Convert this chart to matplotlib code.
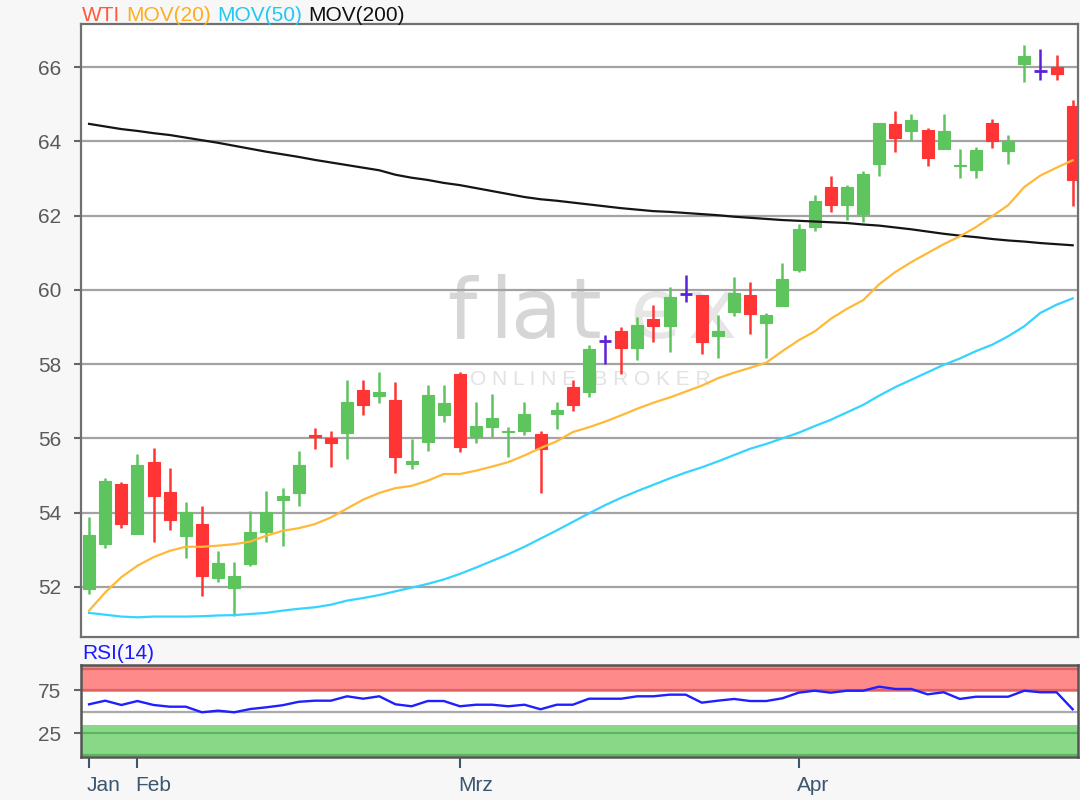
import matplotlib
matplotlib.use("Agg")
import matplotlib.pyplot as plt
import matplotlib.transforms as mtransforms
import pandas as pd
import numpy as np

plt.rcParams['font.family'] = ['Liberation Sans', 'DejaVu Sans']

# ---------------- data ----------------
dates = pd.bdate_range('2019-01-29', periods=62)
month_names = {1: 'Jan', 2: 'Feb', 3: 'Mrz', 4: 'Apr'}

opens = [51.94, 53.15, 54.76, 53.42, 55.35, 54.55, 53.38, 53.68, 52.25, 51.96,
         52.62, 53.49, 54.35, 54.52, 56.10, 56.00, 56.14, 57.31, 57.13, 57.04,
         55.31, 55.89, 56.64, 57.74, 56.03, 56.31, 56.17, 56.20, 56.12, 56.65,
         57.37, 57.24, 58.62, 58.90, 58.43, 59.21, 59.03, 59.90, 59.86, 58.76,
         59.39, 59.86, 59.10, 59.57, 60.53, 61.69, 62.77, 62.28, 62.03, 63.40,
         64.46, 64.27, 64.30, 63.80, 63.33, 63.24, 64.50, 63.73, 66.09, 65.89,
         66.00, 64.94]
closes = [53.41, 54.86, 53.69, 55.29, 54.46, 53.80, 54.01, 52.30, 52.65, 52.28,
          53.47, 54.01, 54.44, 55.29, 56.03, 55.87, 56.99, 56.90, 57.26, 55.50,
          55.38, 57.16, 56.94, 55.77, 56.34, 56.55, 56.20, 56.66, 55.72, 56.77,
          56.90, 58.41, 58.62, 58.43, 59.06, 59.03, 59.81, 59.90, 58.60, 58.88,
          59.91, 59.34, 59.32, 60.29, 61.65, 62.39, 62.28, 62.77, 63.11, 64.50,
          64.09, 64.57, 63.56, 64.28, 63.37, 63.76, 64.00, 64.00, 66.29, 65.89,
          65.82, 62.97]
highs = [53.89, 54.92, 54.82, 55.57, 55.73, 55.19, 54.28, 54.17, 52.97, 52.66,
         54.05, 54.59, 54.65, 55.67, 56.27, 56.21, 57.58, 57.58, 57.80, 57.53,
         55.99, 57.44, 57.43, 57.80, 56.99, 57.20, 56.31, 56.99, 56.19, 56.99,
         57.58, 58.51, 58.79, 58.99, 59.27, 59.59, 60.08, 60.40, 59.86, 59.33,
         60.35, 60.22, 59.37, 60.71, 61.76, 62.56, 63.06, 62.83, 63.19, 64.50,
         64.83, 64.73, 64.36, 64.73, 63.80, 63.85, 64.61, 64.18, 66.60, 66.49,
         66.33, 65.10]
lows = [51.81, 53.04, 53.58, 53.42, 53.22, 53.53, 52.78, 51.76, 52.14, 51.21,
        52.55, 53.22, 53.11, 54.19, 55.71, 55.22, 55.45, 56.64, 56.95, 55.06,
        55.17, 55.67, 56.43, 55.62, 55.87, 56.03, 55.50, 56.09, 54.53, 56.26,
        56.74, 57.12, 58.00, 57.73, 58.11, 58.60, 58.33, 59.66, 58.27, 58.16,
        59.30, 58.81, 58.16, 59.57, 60.48, 61.58, 62.10, 61.89, 61.83, 63.07,
        63.71, 64.03, 63.34, 63.78, 63.01, 63.01, 63.82, 63.40, 65.60, 65.66,
        65.66, 62.27]

mov20 = [51.36, 51.85, 52.26, 52.57, 52.80, 52.97, 53.08, 53.08, 53.11, 53.15,
         53.22, 53.38, 53.51, 53.58, 53.69, 53.87, 54.11, 54.35, 54.53, 54.66,
         54.72, 54.86, 55.04, 55.04, 55.13, 55.24, 55.36, 55.54, 55.74, 55.92,
         56.17, 56.30, 56.45, 56.62, 56.80, 56.96, 57.10, 57.26, 57.42, 57.62,
         57.77, 57.90, 58.04, 58.35, 58.64, 58.88, 59.22, 59.49, 59.72, 60.15,
         60.48, 60.75, 60.99, 61.23, 61.44, 61.69, 61.98, 62.28, 62.77, 63.08,
         63.29, 63.49]
mov50 = [51.30, 51.25, 51.20, 51.18, 51.20, 51.20, 51.20, 51.21, 51.23, 51.24,
         51.27, 51.30, 51.36, 51.41, 51.45, 51.52, 51.63, 51.70, 51.78, 51.88,
         51.98, 52.08, 52.20, 52.35, 52.52, 52.70, 52.88, 53.08, 53.30, 53.52,
         53.75, 53.98, 54.20, 54.40, 54.58, 54.75, 54.92, 55.08, 55.22, 55.38,
         55.55, 55.72, 55.85, 56.00, 56.15, 56.33, 56.50, 56.70, 56.90, 57.15,
         57.38, 57.58, 57.78, 57.98, 58.15, 58.35, 58.52, 58.75, 59.02, 59.38,
         59.60, 59.77]
mov200 = [64.47, 64.40, 64.33, 64.28, 64.22, 64.17, 64.10, 64.03, 63.96, 63.88,
          63.80, 63.72, 63.65, 63.58, 63.50, 63.43, 63.36, 63.29, 63.22, 63.10,
          63.02, 62.96, 62.88, 62.82, 62.74, 62.66, 62.58, 62.50, 62.44, 62.40,
          62.35, 62.30, 62.25, 62.20, 62.16, 62.12, 62.10, 62.07, 62.04, 62.01,
          61.97, 61.94, 61.91, 61.88, 61.86, 61.84, 61.82, 61.80, 61.76, 61.73,
          61.68, 61.63, 61.57, 61.51, 61.46, 61.42, 61.37, 61.33, 61.30, 61.26,
          61.23, 61.20]
rsi14 = [58.6, 62.8, 57.8, 62.4, 57.8, 55.8, 55.8, 49.3, 51.2, 49.3,
         53.1, 55.1, 57.5, 61.5, 62.8, 62.8, 67.9, 65.1, 67.9, 58.6,
         56.3, 62.4, 62.4, 56.3, 58.1, 58.1, 56.3, 58.1, 52.8, 58.1,
         58.1, 65.1, 65.1, 65.1, 67.9, 67.9, 69.8, 69.8, 60.5, 62.8,
         64.8, 62.4, 62.4, 65.6, 72.1, 74.4, 72.1, 74.4, 74.4, 79.1,
         76.4, 76.4, 70.2, 72.6, 64.8, 67.4, 67.4, 67.4, 74.4, 72.6,
         72.6, 52.8]

price_ticks = [52, 54, 56, 58, 60, 62, 64, 66]
rsi_ticks = [25, 75]

# ---------------- style ----------------
GREEN = '#5ec45e'
RED = '#ff3535'
DOJI = '#5a22d8'
W, H = 1080, 800

fig = plt.figure(figsize=(W / 100, H / 100), dpi=100, facecolor='#f7f7f7')
L, R = 81, 1078
ax = fig.add_axes([L / W, 1 - 637 / H, (R - L) / W, (637 - 24) / H])
ax2 = fig.add_axes([L / W, 1 - 757 / H, (R - L) / W, (757 - 665) / H], sharex=ax)

x = np.arange(len(dates))
o = np.array(opens); c = np.array(closes); hi = np.array(highs); lo = np.array(lows)


def px2ax(px, py):
    return (px - L) / (R - L), (637 - py) / (637 - 24)


# watermark
for ch, px, col in [('f', 462, '#d6d6d6'), ('l', 501, '#d6d6d6'), ('a', 537, '#d6d6d6'),
                    ('t', 585, '#d6d6d6'), ('e', 655, '#e6e6e6'), ('x', 712, '#e6e6e6')]:
    ax.text(*px2ax(px, 338), ch, transform=ax.transAxes, ha='center', va='baseline',
            fontsize=60, color=col, family='DejaVu Sans', zorder=0.1)
ax.text(*px2ax(590, 385), 'O N L I N E   B R O K E R', transform=ax.transAxes,
        ha='center', va='baseline', fontsize=15, color='#e2e2e2', zorder=0.1)

# candles
for i in x:
    if abs(c[i] - o[i]) < 1e-9:
        ax.vlines(i, lo[i], hi[i], color=DOJI, lw=1.8, zorder=2)
        ax.hlines(o[i], i - 0.38, i + 0.38, color=DOJI, lw=2, zorder=2)
    else:
        col = GREEN if c[i] > o[i] else RED
        ax.vlines(i, lo[i], hi[i], color=col, lw=1.8, zorder=2)
        ax.bar(i, abs(c[i] - o[i]), bottom=min(o[i], c[i]), width=0.74,
               color=col, edgecolor=col, linewidth=0.8, zorder=2.1)

ax.plot(x, mov200, color='#151515', lw=1.6, zorder=3)
ax.plot(x, mov50, color='#35d3ff', lw=1.6, zorder=3)
ax.plot(x, mov20, color='#ffb937', lw=1.6, zorder=3)

ax.set_xlim(-0.5, 61.33)
ax.set_ylim(50.65, 67.16)
ax.set_yticks(price_ticks)
ax.set_yticklabels([str(t) for t in price_ticks])
ax.set_facecolor('white')
ax.grid(axis='y', color='#a3a3a3', lw=1.6)
ax.set_axisbelow(True)
ax.tick_params(axis='y', colors='#666666', labelcolor='#5a5a5a', labelsize=15,
               length=5, width=1.5, pad=9)
ax.tick_params(axis='x', bottom=False, labelbottom=False)
for s in ax.spines.values():
    s.set_color('#707070'); s.set_linewidth(1.6)

# title (chained coloured texts)
t_prev = fig.text(82 / W, 1 - 25 / H, 'WTI', color='#ff5a3a', fontsize=15,
                  va='bottom', ha='left')
for txt, col in [('MOV(20)', '#ffad1f'), ('MOV(50)', '#22c8f2'), ('MOV(200)', '#111111')]:
    t_prev = ax.annotate(txt, xy=(1, 0), xycoords=t_prev, xytext=(4.5, 0),
                         textcoords='offset points', color=col, fontsize=15,
                         va='bottom', ha='left', annotation_clip=False)

# RSI panel
ax2.set_facecolor('white')
ax2.axhspan(73, 110, color='#ff8a8a', lw=0, zorder=0.5)
ax2.axhspan(-10, 34, color='#88d888', lw=0, zorder=0.5)
ax2.axhline(100, color='#dd6464', lw=1.6, zorder=0.6)
ax2.axhline(75, color='#dd6464', lw=1.6, zorder=0.6)
ax2.axhline(25, color='#5db55d', lw=1.6, zorder=0.6)
ax2.axhline(0, color='#5db55d', lw=1.6, zorder=0.6)
ax2.axhline(50, color='#aaaaaa', lw=1.6, zorder=0.6)
ax2.plot(x, rsi14, color='#1f1fff', lw=1.7, zorder=3)
ax2.set_ylim(-2.7, 104.3)
ax2.set_yticks(rsi_ticks)
ax2.set_yticklabels([str(v) for v in rsi_ticks])
ax2.tick_params(axis='y', colors='#666666', labelcolor='#5a5a5a', labelsize=15,
                length=5, width=1.5, pad=9)
for s in ax2.spines.values():
    s.set_color('#555555'); s.set_linewidth(1.8)

months = [d.month for d in dates]
tick_idx = [0] + [i for i in range(1, len(months)) if months[i] != months[i - 1]]
ax2.set_xticks(tick_idx)
ax2.set_xticklabels([month_names[months[i]] for i in tick_idx])
ax2.tick_params(axis='x', colors='#3c5670', labelcolor='#3c5670', labelsize=15,
                length=8, width=1.5, pad=6)
shift = mtransforms.ScaledTranslation(-2 / 100, 0, fig.dpi_scale_trans)
for lab in ax2.get_xticklabels():
    lab.set_horizontalalignment('left')
    lab.set_transform(lab.get_transform() + shift)

fig.text(82 / W, 1 - 663 / H, 'RSI(14)', color='#1a1aff', fontsize=15, va='bottom', ha='left')

fig.savefig('out.png', dpi=100, facecolor=fig.get_facecolor())
